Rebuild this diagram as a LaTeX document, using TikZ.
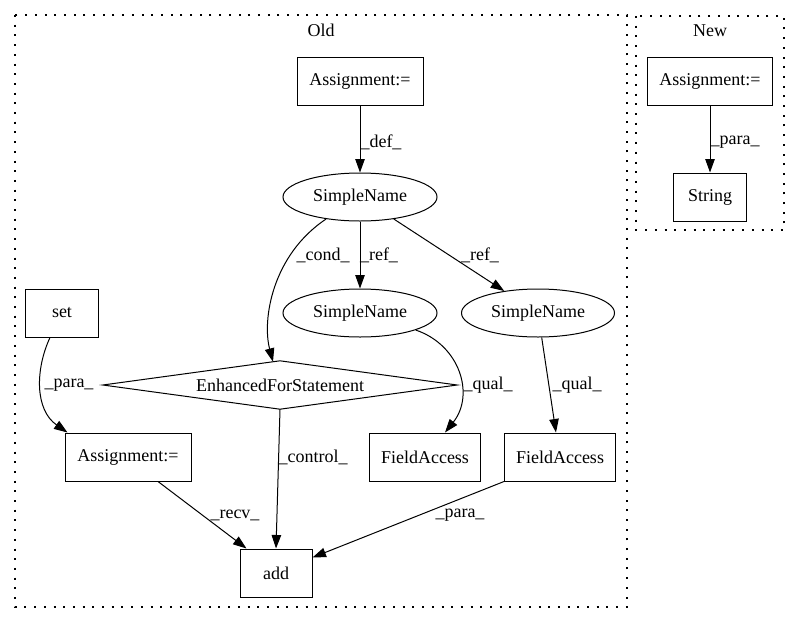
\documentclass[tikz,border=0pt]{standalone}
\usepackage{fontspec}
\setmainfont{Liberation Serif}
\usetikzlibrary{arrows.meta,shapes.geometric,calc}
\begin{document}
\begin{tikzpicture}[x=1pt,y=-1pt,
  every node/.style={font=\fontsize{18}{21}\selectfont, inner sep=0pt},
  box/.style={draw, line width=1pt, rectangle, minimum height=48pt},
  oval/.style={draw, line width=1pt, ellipse, minimum width=154pt, minimum height=48pt},
  edge/.style={draw, line width=1pt, -{Triangle[length=13.5pt,width=9.5pt]}},
  lbl/.style={fill=none},
  cluster/.style={draw, line width=1.2pt, dash pattern=on 2pt off 7.7pt}]
\useasboundingbox (0,0) rectangle (800,624);
% clusters
\draw[cluster] (15,15) rectangle (627,607);
\draw[cluster] (636,16) rectangle (784,230);
\node (oldlbl) at (321,30) {Old};
\node (newlbl) at (710,31) {New};
% nodes Old
\node[box, minimum width=126pt] (a1) at (360,81) {Assignment:=};
\node[oval] (s1) at (360,197) {SimpleName};
\node[oval] (s2) at (360,313) {SimpleName};
\node[oval, minimum width=153pt] (s3) at (538,313) {SimpleName};
\node[box, minimum width=73pt] (set) at (62,313) {set};
\node[rectangle, minimum width=354pt, minimum height=48pt] (efs) at (280,385) {EnhancedForStatement};
\draw[line width=1pt] (efs.west) -- (efs.north) -- (efs.east) -- (efs.south) -- cycle;
\node[box, minimum width=126pt] (a2) at (128,457) {Assignment:=};
\node[box, minimum width=111pt] (fa1) at (425,457) {FieldAccess};
\node[box, minimum width=111pt] (fa2) at (560,457) {FieldAccess};
\node[box, minimum width=72pt] (add) at (276,573) {add};
% nodes New
\node[box, minimum width=125pt] (na) at (710,81) {Assignment:=};
\node[box, minimum width=73pt] (str) at (710,197) {String};
% edges Old
\draw[edge] (a1) -- (s1);
\node[lbl] (l1) at (381,142) {\_def\_};
\draw[edge] (s1) -- (s2);
\node[lbl] (l2) at (379,255) {\_ref\_};
\draw[edge] (s1) -- (s3);
\node[lbl] (l3) at (480,255) {\_ref\_};
\draw[edge] (s1.213) .. controls (272,255) and (262,320) .. ($(efs.north)+(-7,1)$);
\node[lbl] (l4) at (323,255) {\_cond\_};
\draw[edge] (s2.-17) .. controls (460,345) and (475,395) .. ($(fa1.north)+(20,0)$);
\node[lbl] (l5) at (488,385) {\_qual\_};
\draw[edge] (s3) -- ($(fa2.north)+(-4,0)$);
\node[lbl] (l6) at (577,385) {\_qual\_};
\draw[edge] ($(set.south)+(-12,0)$) .. controls (35,370) and (35,410) .. ($(a2.north west)+(3,0)$);
\node[lbl] (l7) at (69,385) {\_para\_};
\draw[edge] ($(a2.south)+(30,0)$) -- ($(add.north west)+(7,0)$);
\node[lbl] (l8) at (235,515) {\_recv\_};
\draw[edge] (efs.south) -- (add.north);
\node[lbl] (l9) at (313,457) {\_control\_};
\draw[edge] (fa2.south west) -- ($(add.north east)+(0,9)$);
\node[lbl] (l10) at (460,515) {\_para\_};
% edges New
\draw[edge] (na) -- (str);
\node[lbl] (l11) at (735,142) {\_para\_};
\end{tikzpicture}
\end{document}
